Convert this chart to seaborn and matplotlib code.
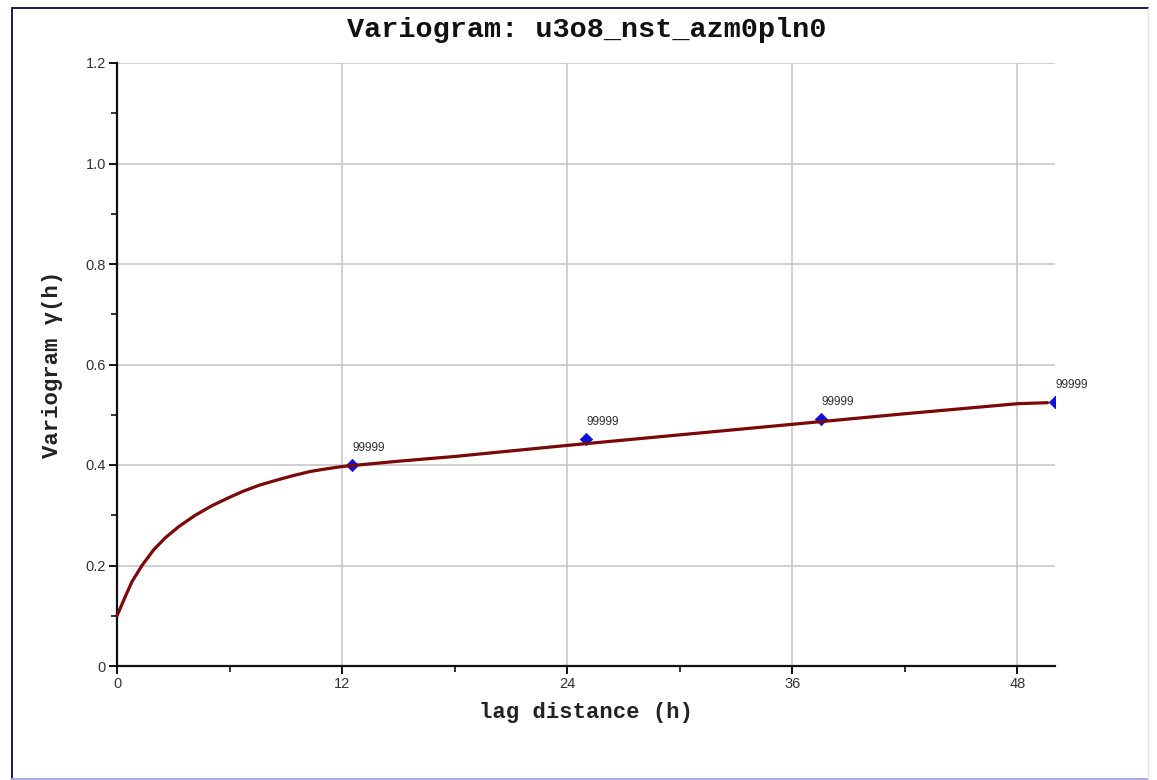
import matplotlib
matplotlib.use("Agg")
import matplotlib.pyplot as plt
from matplotlib.lines import Line2D
import seaborn as sns
import pandas as pd

# Variogram model curve (lag, gamma)
model_lag = [0, 0.44, 0.8, 1.33, 1.95, 2.57, 3.28, 4.17, 5.06, 5.9, 6.74, 7.6,
             8.52, 9.4, 10.29, 11.1, 12.0, 15.0, 18.0, 24.0, 30.0, 36.0, 42.0,
             48.0, 49.6]
model_gamma = [0.100, 0.138, 0.168, 0.200, 0.231, 0.255, 0.277, 0.300, 0.319,
               0.334, 0.348, 0.360, 0.370, 0.379, 0.387, 0.392, 0.397, 0.4075,
               0.417, 0.439, 0.460, 0.481, 0.502, 0.522, 0.524]

# Experimental variogram points and their pair-count labels
exp_lag = [12.53, 25.0, 37.5, 50.0]
exp_gamma = [0.400, 0.452, 0.4915, 0.525]
exp_labels = ["99999", "99999", "99999", "99999"]

x_ticks = [0, 12, 24, 36, 48]
y_ticks = [0, 0.2, 0.4, 0.6, 0.8, 1.0, 1.2]
y_tick_labels = ["0", "0.2", "0.4", "0.6", "0.8", "1.0", "1.2"]

sns.set_style("white")
plt.rcParams["font.family"] = ["Liberation Sans", "DejaVu Sans"]

fig = plt.figure(figsize=(11.57, 7.80), dpi=100)
ax = fig.add_axes([117 / 1157, 1 - 666 / 780, (1055 - 117) / 1157, (666 - 63) / 780])

model_df = pd.DataFrame({"lag": model_lag, "gamma": model_gamma})
exp_df = pd.DataFrame({"lag": exp_lag, "gamma": exp_gamma})

sns.scatterplot(data=exp_df, x="lag", y="gamma", ax=ax, marker="D", s=40,
                color="#1010d8", edgecolor="#1010d8", zorder=3, clip_on=True)
sns.lineplot(data=model_df, x="lag", y="gamma", ax=ax, color="#7a0808",
             linewidth=2.3, zorder=4, clip_on=False)

for lx, ly, txt in zip(exp_lag, exp_gamma, exp_labels):
    ax.annotate(txt, (lx, ly), xytext=(0.5, 8), textcoords="offset points",
                fontsize=8.5, color="#303030", ha="left", va="bottom",
                annotation_clip=False)

ax.set_xlim(0, 50)
ax.set_ylim(0, 1.2)
ax.set_xticks(x_ticks)
ax.set_xticks([6, 18, 30, 42], minor=True)
ax.set_yticks(y_ticks)
ax.set_yticklabels(y_tick_labels)
ax.set_yticks([0.1, 0.3, 0.5, 0.7, 0.9, 1.1], minor=True)

ax.grid(True, which="major", color="#c4c4c4", linewidth=1.1)
ax.set_axisbelow(True)
for side in ("top", "right"):
    ax.spines[side].set_visible(False)
for side in ("left", "bottom"):
    ax.spines[side].set_color("#111111")
    ax.spines[side].set_linewidth(1.6)

ax.tick_params(axis="both", which="major", direction="out", length=6, width=1.4,
               color="#111111", labelsize=10.5, labelcolor="#333333", pad=2,
               left=True, bottom=True)
ax.tick_params(axis="both", which="minor", direction="out", length=4, width=1.2,
               color="#111111", left=True, bottom=True)

mono = {"family": ["Liberation Mono", "DejaVu Sans Mono"], "weight": "bold"}
ax.set_xlabel("lag distance (h)", fontdict=mono, fontsize=16, color="#222222", labelpad=8)
ax.set_ylabel("Variogram γ(h)", fontdict=mono, fontsize=16, color="#222222", labelpad=16)
fig.text(587 / 1157, 1 - 30 / 780, "Variogram: u3o8_nst_azm0pln0", ha="center",
         va="center", fontsize=20.5, color="#111111", **mono)

# Outer frame
fig.add_artist(Line2D([12 / 1157, 12 / 1157], [1 - 779 / 780, 1 - 7.5 / 780],
                      transform=fig.transFigure, color="#1a1a5a", linewidth=1.4))
fig.add_artist(Line2D([12 / 1157, 1148 / 1157], [1 - 7.5 / 780, 1 - 7.5 / 780],
                      transform=fig.transFigure, color="#1a1a5a", linewidth=1.4))
fig.add_artist(Line2D([12 / 1157, 1148 / 1157], [1 - 779 / 780, 1 - 779 / 780],
                      transform=fig.transFigure, color="#a8a8e0", linewidth=1.4))
fig.add_artist(Line2D([1148 / 1157, 1148 / 1157], [1 - 779 / 780, 1 - 7.5 / 780],
                      transform=fig.transFigure, color="#e4e4f4", linewidth=1.0))

fig.savefig("out.png", dpi=100)
